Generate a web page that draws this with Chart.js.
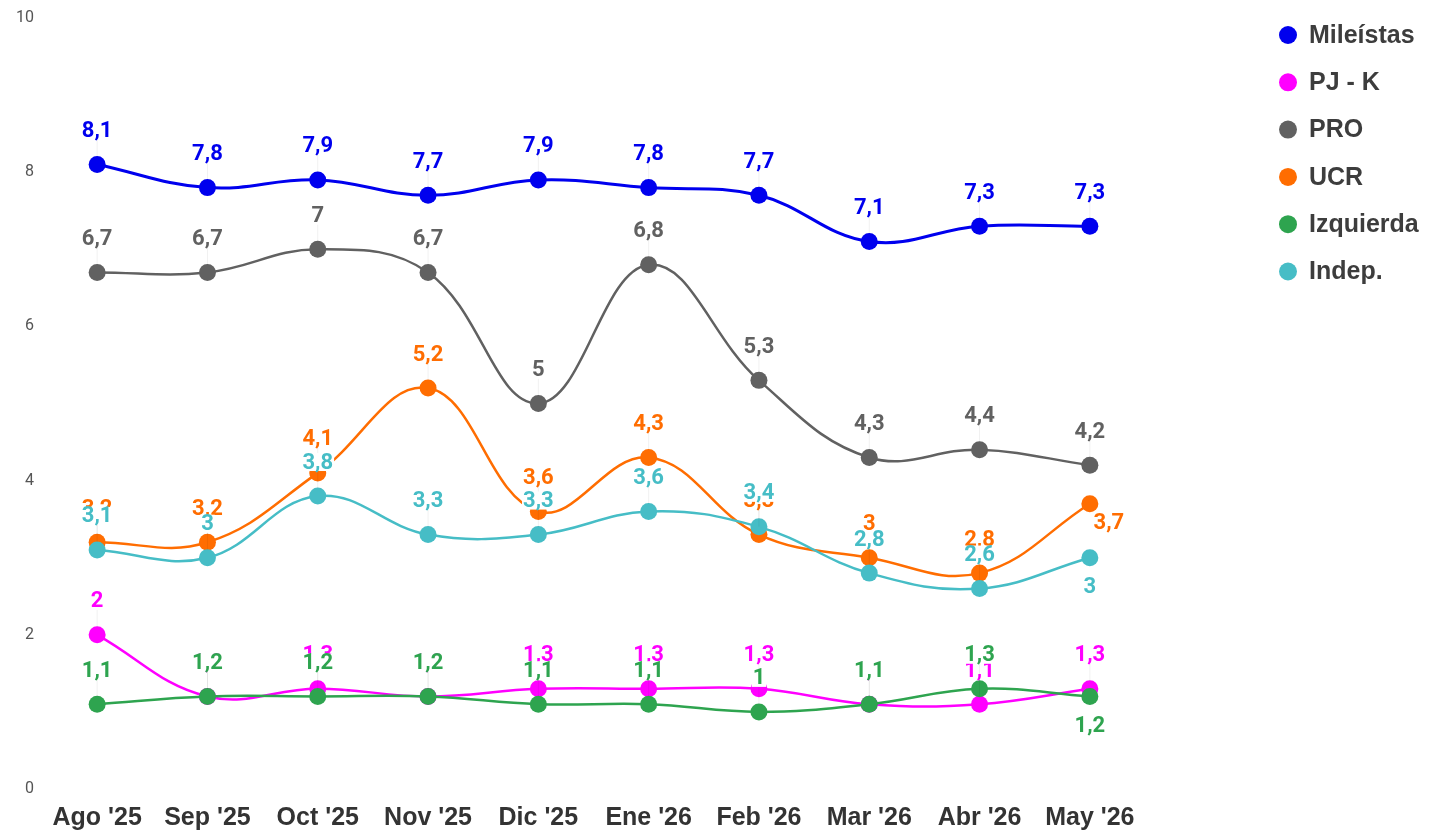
<!DOCTYPE html>
<html>
<head>
<meta charset="utf-8">
<script src="https://cdn.jsdelivr.net/npm/chart.js@4.4.1/dist/chart.umd.min.js"></script>
<style>
  html,body{margin:0;padding:0;background:#fff;}
  #wrap{width:1430px;height:835px;position:relative;}
</style>
</head>
<body>
<div id="wrap"><canvas id="c" width="1430" height="835"></canvas></div>
<script>
// ---- data ----
const categories = ["Ago '25","Sep '25","Oct '25","Nov '25","Dic '25","Ene '26","Feb '26","Mar '26","Abr '26","May '26"];
const seriesNames = ["Mileístas","PJ - K","PRO","UCR","Izquierda","Indep."];
const mileistas = [8.1,7.8,7.9,7.7,7.9,7.8,7.7,7.1,7.3,7.3];
const pjk       = [2,1.2,1.3,1.2,1.3,1.3,1.3,1.1,1.1,1.3];
const pro       = [6.7,6.7,7,6.7,5,6.8,5.3,4.3,4.4,4.2];
const ucr       = [3.2,3.2,4.1,5.2,3.6,4.3,3.3,3,2.8,3.7];
const izquierda = [1.1,1.2,1.2,1.2,1.1,1.1,1,1.1,1.3,1.2];
const indep     = [3.1,3,3.8,3.3,3.3,3.6,3.4,2.8,2.6,3];
const yTicks    = [0,2,4,6,8,10];

// ---- styles ----
const colors = ["#0000ee","#ff00ff","#616161","#ff6d01","#2ea44f","#46bdc6"];
const seriesData = [mileistas,pjk,pro,ucr,izquierda,indep];
// label placement overrides: "datasetIndex-pointIndex" -> mode
const labelModes = {"3-9":"rightBelow","4-9":"below","5-9":"below"};

const datasets = seriesData.map((d,i)=>({
  label: seriesNames[i],
  data: d,
  borderColor: colors[i],
  backgroundColor: colors[i],
  pointBackgroundColor: colors[i],
  pointBorderWidth: 0,
  pointRadius: 8.5,
  pointHoverRadius: 8.5,
  borderWidth: i===0 ? 3 : 2.5,
  tension: 0.4,
  fill: false,
  order: 6 - i
}));

const labelPlugin = {
  id: 'valueLabels',
  afterDatasetsDraw(chart){
    const ctx = chart.ctx;
    ctx.save();
    ctx.font = "bold 22px Roboto";
    ctx.textAlign = 'center';
    ctx.textBaseline = 'middle';
    chart.data.datasets.forEach((ds,i)=>{
      const meta = chart.getDatasetMeta(i);
      meta.data.forEach((pt,j)=>{
        const v = ds.data[j];
        const txt = String(v).replace('.',',');
        const mode = labelModes[i+"-"+j] || 'top';
        let lx = pt.x, ly = pt.y - 34;
        if (mode==='below'){ ly = pt.y + 29; }
        if (mode==='rightBelow'){ lx = pt.x + 19; ly = pt.y + 19; }
        const w = ctx.measureText(txt).width;
        if (mode==='top'){
          ctx.strokeStyle = 'rgba(0,0,0,0.06)';
          ctx.lineWidth = 1;
          ctx.beginPath();
          ctx.moveTo(pt.x, pt.y - 8);
          ctx.lineTo(pt.x, ly + 9);
          ctx.stroke();
        }
        ctx.fillStyle = '#ffffff';
        ctx.fillRect(lx - w/2 - 1, ly - 9, w + 2, 18);
        ctx.fillStyle = ds.borderColor;
        ctx.fillText(txt, lx, ly + 1);
      });
    });
    ctx.restore();
  }
};

const legendPlugin = {
  id: 'customLegend',
  afterDraw(chart){
    const ctx = chart.ctx;
    ctx.save();
    ctx.font = "bold 25px 'Liberation Sans', Arial, sans-serif";
    ctx.textBaseline = 'middle';
    ctx.textAlign = 'left';
    chart.data.datasets.forEach((ds,i)=>{
      const y = 35 + i*47.3;
      ctx.fillStyle = ds.borderColor;
      ctx.beginPath();
      ctx.arc(1288, y, 9, 0, Math.PI*2);
      ctx.fill();
      ctx.fillStyle = '#3d3d3d';
      ctx.fillText(ds.label, 1309, y + 1);
    });
    ctx.restore();
  }
};

new Chart(document.getElementById('c'), {
  type: 'line',
  data: { labels: categories, datasets },
  options: {
    responsive: false,
    animation: false,
    events: [],
    layout: { padding: { top: 18, right: 285, left: 0, bottom: 0 } },
    plugins: { legend: { display: false }, tooltip: { enabled: false } },
    scales: {
      x: {
        offset: true,
        grid: { display: false, drawTicks: false },
        border: { display: false },
        ticks: { color: '#333333', font: { family: "'Liberation Sans', Arial, sans-serif", size: 25, weight: 'bold' }, padding: 14, maxRotation: 0, autoSkip: false },
        afterFit(s){ s.height = 46; }
      },
      y: {
        min: 0, max: 10,
        grid: { display: false, drawTicks: false },
        border: { display: false },
        afterBuildTicks(s){ s.ticks = yTicks.map(v=>({value:v})); },
        ticks: { color: '#555555', font: { family: "Roboto", size: 16 }, padding: 8 },
        afterFit(s){ s.width = 42; }
      }
    }
  },
  plugins: [labelPlugin, legendPlugin]
});
</script>
</body>
</html>
